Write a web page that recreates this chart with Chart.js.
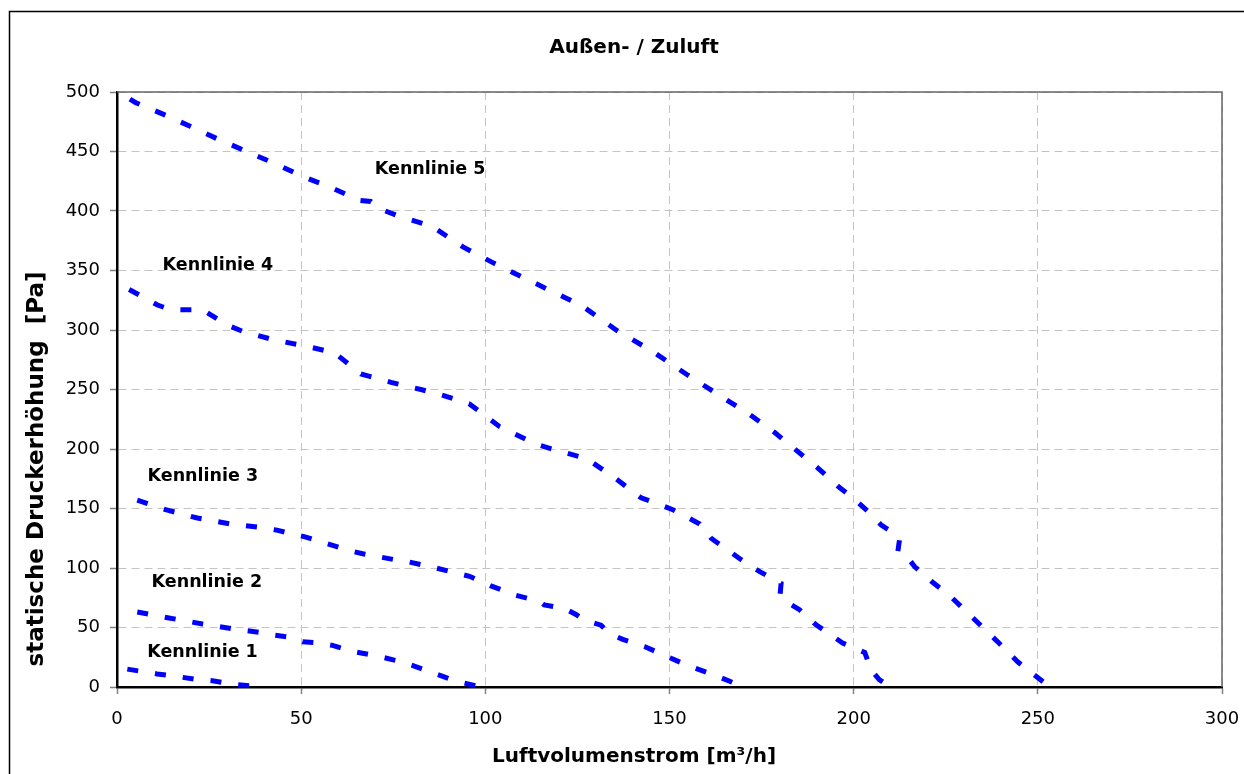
<!DOCTYPE html>
<html>
<head>
<meta charset="utf-8">
<title>Außen- / Zuluft</title>
<script src="https://cdn.jsdelivr.net/npm/chart.js@4.4.0/dist/chart.umd.min.js"></script>
<style>
  body { margin: 0; background: #fff; }
</style>
</head>
<body>
<canvas id="chart" width="1244" height="774"></canvas>
<script>
// Kennlinien (Luftvolumenstrom m3/h, Druck Pa)
var k1_x = [2.8, 10.9, 15.9, 21.4, 25.9, 31.8, 39.5];
var k1_y = [15, 11, 9, 6.4, 5.3, 2.2, 0];

var k2_x = [5.5, 14.1, 23.2, 31.3, 38.6, 41.8, 46.7, 50.4, 54.9, 58.5, 63.9, 70.7, 77.5, 83.9, 92, 98.4, 99];
var k2_y = [63, 58, 53, 49, 46, 44, 42, 38, 37, 35, 30, 26, 21, 14, 5, 0.3, 0];

var k3_x = [5.5, 13.2, 21.8, 30.9, 39, 43.1, 51.3, 54.4, 62.6, 66.7, 75.3, 78, 86.6, 95.7, 101.5, 108.3, 114.7, 116, 121.5, 124.6, 127, 131.4, 133.7, 137.3, 143.2, 149.1, 155, 162.2, 170, 171];
var k3_y = [157, 149, 142, 137, 134, 132, 126, 123, 115, 112, 107, 106, 100, 93, 85, 77, 72, 69, 66, 61, 56, 52, 45, 40, 34, 26, 18, 10, 0.3, 0];

var k4_x = [3.3, 11, 14.6, 23.2, 30, 34, 42.2, 50.4, 59, 66.2, 74.4, 82.5, 87.5, 95.6, 103.8, 113.8, 119.2, 127.4, 134.6, 142.3, 150.9, 158.2, 161.3, 169, 174.5, 178, 180.3, 180, 182.6, 185.3, 189.9, 197, 203, 204.8, 207, 208];
var k4_y = [334, 321, 317, 317, 304, 299, 292, 287, 281, 263, 256, 250, 246, 238, 219, 204, 199, 192, 177, 159, 149, 137, 125, 108, 97, 91, 87, 77, 70, 65, 52, 37, 29, 14, 6, 4];

var k5_x = [3.5, 5.1, 12.8, 20, 27.7, 35.2, 42.8, 50.4, 57.9, 65.8, 68.9, 71.2, 77.1, 85.6, 93.8, 102.4, 126.4, 135.5, 145.4, 155, 163.6, 171.3, 178.5, 184, 190.3, 196, 199.8, 204.8, 207.5, 211.6, 212.5, 212, 214.3, 216.6, 221, 226, 232.4, 239.1, 244.6, 252.4, 253];
var k5_y = [494, 491, 481, 471, 460, 450, 440, 429, 420, 409, 408, 402, 395, 387, 370, 356, 320, 300, 282, 262, 245, 230, 214, 200, 184, 168, 159, 145, 136, 128, 125, 114, 110, 101, 89, 77, 58, 38, 21, 2, 0];

var labelText = ["Kennlinie 1", "Kennlinie 2", "Kennlinie 3", "Kennlinie 4", "Kennlinie 5"];
var labelX = [23.2, 24.4, 23.3, 27.4, 85.0];
var labelY = [29, 87.7, 177, 354, 434.5];

var xTicks = [0, 50, 100, 150, 200, 250, 300];
var yTicks = [0, 50, 100, 150, 200, 250, 300, 350, 400, 450, 500];

var chartTitle = "Außen- / Zuluft";
var xTitle = "Luftvolumenstrom [m³/h]";
var yTitle = "statische Druckerhöhung  [Pa]";

function toPoints(xs, ys) {
    return xs.map(function (x, i) { return { x: x, y: ys[i] }; });
}

function curve(xs, ys) {
    return {
        data: toPoints(xs, ys),
        showLine: true,
        borderColor: "#0000ff",
        borderWidth: 5,
        borderDash: [11, 17],
        borderCapStyle: "butt",
        pointRadius: 0,
        fill: false,
        tension: 0
    };
}

var framePlugin = {
    id: "frame",
    beforeDraw: function (chart) {
        var ctx = chart.ctx;
        ctx.save();
        ctx.fillStyle = "#ffffff";
        ctx.fillRect(0, 0, chart.width, chart.height);
        ctx.strokeStyle = "#000000";
        ctx.lineWidth = 1.5;
        ctx.strokeRect(9.5, 11.5, chart.width, chart.height);
        ctx.restore();
    },
    beforeDatasetsDraw: function (chart) {
        var a = chart.chartArea, ctx = chart.ctx;
        ctx.save();
        ctx.strokeStyle = "#666666";
        ctx.lineWidth = 1.5;
        ctx.beginPath();
        ctx.moveTo(a.left, a.top);
        ctx.lineTo(a.right, a.top);
        ctx.lineTo(a.right, a.bottom);
        ctx.stroke();
        ctx.restore();
    },
    afterDatasetsDraw: function (chart) {
        var ctx = chart.ctx;
        var sx = chart.scales.x, sy = chart.scales.y;
        ctx.save();
        ctx.fillStyle = "#000000";
        ctx.textAlign = "center";
        ctx.textBaseline = "middle";
        ctx.font = "bold 17.5px 'DejaVu Sans'";
        labelText.forEach(function (t, i) {
            ctx.fillText(t, sx.getPixelForValue(labelX[i]), sy.getPixelForValue(labelY[i]));
        });
        ctx.font = "bold 20px 'DejaVu Sans'";
        ctx.fillText(chartTitle, 634, 48);
        ctx.fillText(xTitle, 634, 757);
        ctx.font = "bold 23px 'DejaVu Sans'";
        ctx.translate(37, 469);
        ctx.rotate(-Math.PI / 2);
        ctx.fillText(yTitle, 0, 0);
        ctx.restore();
    }
};

var ctx = document.getElementById("chart").getContext("2d");
var chart = new Chart(ctx, {
    type: "scatter",
    data: {
        datasets: [curve(k1_x, k1_y), curve(k2_x, k2_y), curve(k3_x, k3_y), curve(k4_x, k4_y), curve(k5_x, k5_y)]
    },
    options: {
        responsive: false,
        animation: false,
        layout: { padding: { top: 92, right: 22, left: 0, bottom: 0 } },
        plugins: {
            legend: { display: false },
            tooltip: { enabled: false },
            title: { display: false }
        },
        scales: {
            x: {
                type: "linear",
                min: 0,
                max: 300,
                afterBuildTicks: function (s) { s.ticks = xTicks.map(function (v) { return { value: v }; }); },
                afterFit: function (s) { s.height = 87; s.paddingLeft = 0; s.paddingRight = 0; },
                ticks: { color: "#000", padding: 15, font: { family: "DejaVu Sans", size: 18 } },
                grid: { color: "#c4c4c4", lineWidth: 1, tickColor: "#808080", tickLength: 7, tickWidth: 1.5 },
                border: { color: "#000", width: 2.5, dash: [8, 5] }
            },
            y: {
                type: "linear",
                min: 0,
                max: 500,
                afterBuildTicks: function (s) { s.ticks = yTicks.map(function (v) { return { value: v }; }); },
                afterFit: function (s) { s.width = 117; },
                ticks: { color: "#000", padding: 10, font: { family: "DejaVu Sans", size: 18 } },
                grid: { color: "#c4c4c4", lineWidth: 1, tickColor: "#808080", tickLength: 7, tickWidth: 1.5 },
                border: { color: "#000", width: 2.5, dash: [8, 5] }
            }
        }
    },
    plugins: [framePlugin]
});
</script>
</body>
</html>
